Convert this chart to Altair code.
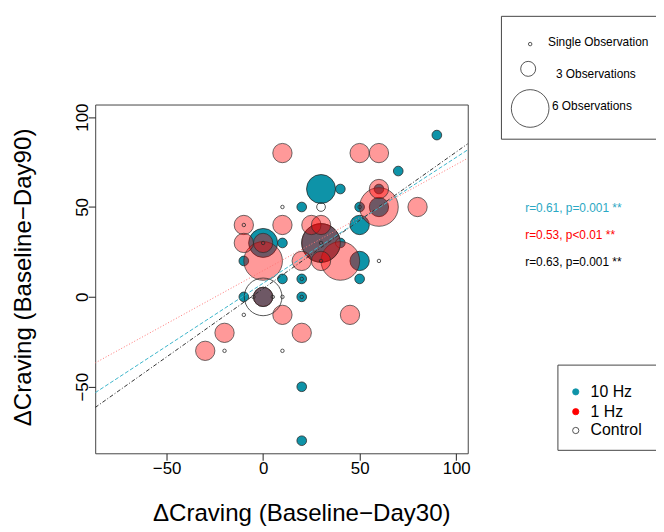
import altair as alt
import pandas as pd

FONT = "Liberation Sans"

# ---- data ----
# 10 Hz group: x = ΔCraving (Baseline-Day30), y = ΔCraving (Baseline-Day90), n = observations
hz10_x = [90, 70, 30, 40, 20, 50, 50, 0, 10, 40, 30, -10, 50, 10, 20, 50, -10, 0, 20, 20, 20, 60, 60]
hz10_y = [90, 70, 60, 60, 50, 50, 40, 30, 30, 30, 30, 20, 20, 10, 10, 10, 0, 0, 0, -50, -80, 50, 60]
hz10_n = [1, 1, 3, 1, 1, 1, 2, 3, 1, 1, 4, 1, 2, 1, 1, 1, 1, 2, 1, 1, 1, 2, 1]

# 1 Hz group
hz1_x = [10, 50, 60, 80, -10, 10, 25, 30, -10, 0, 0, 20, 30, 40, 30, 0, 60, 60, 10, 20, -20, -30, 45]
hz1_y = [80, 80, 80, 50, 40, 40, 40, 40, 30, 30, 20, 20, 20, 20, 30, 0, 50, 60, -10, -20, -20, -30, -10]
hz1_n = [2, 2, 2, 2, 2, 2, 2, 2, 2, 2, 4, 2, 2, 4, 4, 2, 4, 2, 2, 2, 2, 2, 2]

# Control group
ctrl_x = [10, 30, -10, 0, 30, 30, 60, 20, 20, 10, -10, -20, 10, 0, 50, -5, 5]
ctrl_y = [50, 50, 40, 30, 30, 20, 20, 10, 0, 0, -10, -30, -30, 0, 50, 0, 0]
ctrl_n = [1, 2, 1, 1, 1, 1, 1, 1, 1, 1, 1, 1, 1, 6, 1, 1, 1]

# regression fits
fit_labels = ["1 Hz", "10 Hz", "All"]
fit_slope = [0.59, 0.70, 0.76]
fit_intercept = [14.6, 7.6, 4.6]

stats_text = ["r=0.61, p=0.001 **", "r=0.53, p<0.01 **", "r=0.63, p=0.001 **"]
size_legend_counts = [1, 3, 6]
size_legend_labels = ["Single Observation", "3 Observations", "6 Observations"]
group_labels = ["10 Hz", "1 Hz", "Control"]

x_ticks = [-50, 0, 50, 100]
y_ticks = [-50, 0, 50, 100]
X_DOMAIN = [-87, 106]
Y_DOMAIN = [-87, 107]

# ---- styles ----
TEAL = "#0e93a8"
TEAL_LINE = "#3db5ca"
RED_LINE = "#ff7575"
TEAL_TEXT = "#2aa8c4"
EDGE = "#2a2a2a"

df10 = pd.DataFrame({"x": hz10_x, "y": hz10_y, "n": hz10_n}).sort_values("n", ascending=False)
df1 = pd.DataFrame({"x": hz1_x, "y": hz1_y, "n": hz1_n}).sort_values("n", ascending=False)
dfc = pd.DataFrame({"x": ctrl_x, "y": ctrl_y, "n": ctrl_n})

rows = []
for lab, m, b in zip(fit_labels, fit_slope, fit_intercept):
    for xv in X_DOMAIN:
        rows.append({"fit": lab, "x": xv, "y": b + m * xv})
df_fit = pd.DataFrame(rows)

xs = alt.Scale(domain=X_DOMAIN, nice=False, zero=False)
ys = alt.Scale(domain=Y_DOMAIN, nice=False, zero=False)

x_axis = alt.Axis(
    values=x_ticks, title="ΔCraving (Baseline−Day30)", grid=False, domain=False,
    tickSize=7, tickColor="#222", labelFont=FONT, labelFontSize=17, labelColor="black",
    labelBaseline="alphabetic", labelPadding=13, labelFlush=False,
    titleFont=FONT, titleFontSize=24.3, titleFontWeight="normal", titleColor="black",
    titleX=208, titleY=68, titleBaseline="alphabetic", titleAlign="center",
)
y_axis = alt.Axis(
    values=y_ticks, title="ΔCraving (Baseline−Day90)", grid=False, domain=False,
    tickSize=7, tickColor="#222", labelFont=FONT, labelFontSize=17, labelColor="black",
    labelAngle=270, labelAlign="center", labelBaseline="alphabetic", labelPadding=1,
    labelFlush=False,
    titleFont=FONT, titleFontSize=24.3, titleFontWeight="normal", titleColor="black",
    titleAngle=270, titleX=-65, titleY=174, titleBaseline="alphabetic", titleAlign="center",
)

SIZE_GRP = alt.Scale(type="pow", exponent=2, domain=[0, 4], range=[0, 1521])
SIZE_CTRL = alt.Scale(type="pow", exponent=2.66, domain=[0, 6], range=[0, 1444])

teal = alt.Chart(df10).mark_circle(
    fill=TEAL, stroke=EDGE, strokeWidth=0.8, opacity=1, fillOpacity=1
).encode(
    x=alt.X("x:Q", scale=xs, axis=x_axis),
    y=alt.Y("y:Q", scale=ys, axis=y_axis),
    size=alt.Size("n:Q", scale=SIZE_GRP, legend=None),
    order=alt.Order("n:Q", sort="descending"),
)

pink = alt.Chart(df1).mark_circle(
    fill="red", fillOpacity=0.4, stroke=EDGE, strokeWidth=0.8, strokeOpacity=0.85, opacity=1
).encode(
    x=alt.X("x:Q", scale=xs),
    y=alt.Y("y:Q", scale=ys),
    size=alt.Size("n:Q", scale=SIZE_GRP, legend=None),
)

ctrl = alt.Chart(dfc).mark_circle(
    fill="white", fillOpacity=0, stroke=EDGE, strokeWidth=0.8, opacity=1
).encode(
    x=alt.X("x:Q", scale=xs),
    y=alt.Y("y:Q", scale=ys),
    size=alt.Size("n:Q", scale=SIZE_CTRL, legend=None),
)

lines = alt.Chart(df_fit).mark_line(strokeWidth=1, clip=True).encode(
    x=alt.X("x:Q", scale=xs),
    y=alt.Y("y:Q", scale=ys),
    detail="fit:N",
    color=alt.Color("fit:N", scale=alt.Scale(domain=fit_labels, range=[RED_LINE, TEAL_LINE, "#333333"]), legend=None),
    strokeDash=alt.StrokeDash("fit:N", scale=alt.Scale(domain=fit_labels, range=[[1, 2], [4, 2], [4, 2, 1, 2]]), legend=None),
)


def txt(label, px, py, size, color="black"):
    return alt.Chart(pd.DataFrame({"t": [label]})).mark_text(
        align="left", baseline="middle", font=FONT, fontSize=size, color=color
    ).encode(x=alt.value(px), y=alt.value(py), text="t:N")


def box(x1, x2, y1, y2):
    return alt.Chart(pd.DataFrame({"a": [0]})).mark_rect(
        fill="white", fillOpacity=0, stroke="#444", strokeWidth=1
    ).encode(x=alt.value(x1), x2=alt.value(x2), y=alt.value(y1), y2=alt.value(y2))


extras = []
# statistics
stat_colors = [TEAL_TEXT, "#ff0000", "#000000"]
for t, c, py in zip(stats_text, stat_colors, [104, 132, 159]):
    extras.append(txt(t, 434, py, 12, c))

# size legend
extras.append(box(410, 700, -89, 35))
for cnt, lab, (cx, cy, tx, ty) in zip(
    size_legend_counts, size_legend_labels,
    [(439, -61, 457, -63), (437, -36, 465, -31), (439, 4, 461, 2)],
):
    extras.append(
        alt.Chart(pd.DataFrame({"n": [cnt]})).mark_circle(
            fill="white", fillOpacity=0, stroke=EDGE, strokeWidth=0.8, opacity=1
        ).encode(x=alt.value(cx), y=alt.value(cy), size=alt.Size("n:Q", scale=SIZE_CTRL, legend=None))
    )
    extras.append(txt(lab, tx, ty, 12))

# colour legend
extras.append(box(467, 700, 263, 349))
dot_styles = [
    dict(fill=TEAL, stroke=TEAL, fillOpacity=1),
    dict(fill="red", stroke="red", fillOpacity=1),
    dict(fill="white", stroke=EDGE, fillOpacity=0),
]
for lab, st, py in zip(group_labels, dot_styles, [290, 310, 329]):
    extras.append(
        alt.Chart(pd.DataFrame({"g": [lab]})).mark_circle(size=40, strokeWidth=0.8, opacity=1, **st)
        .encode(x=alt.value(485), y=alt.value(py))
    )
    extras.append(txt(lab, 500, py, 16))

chart = alt.layer(teal, pink, ctrl, lines, *extras).resolve_scale(
    size="independent", color="independent", strokeDash="independent"
).properties(
    width=376, height=352,
    autosize=alt.AutoSizeParams(type="none"),
    padding={"left": 88, "top": 95, "right": 190, "bottom": 75},
).configure_view(stroke="#444", strokeWidth=1)

chart.save("out.html", embed_options={"renderer": "svg", "actions": False})
